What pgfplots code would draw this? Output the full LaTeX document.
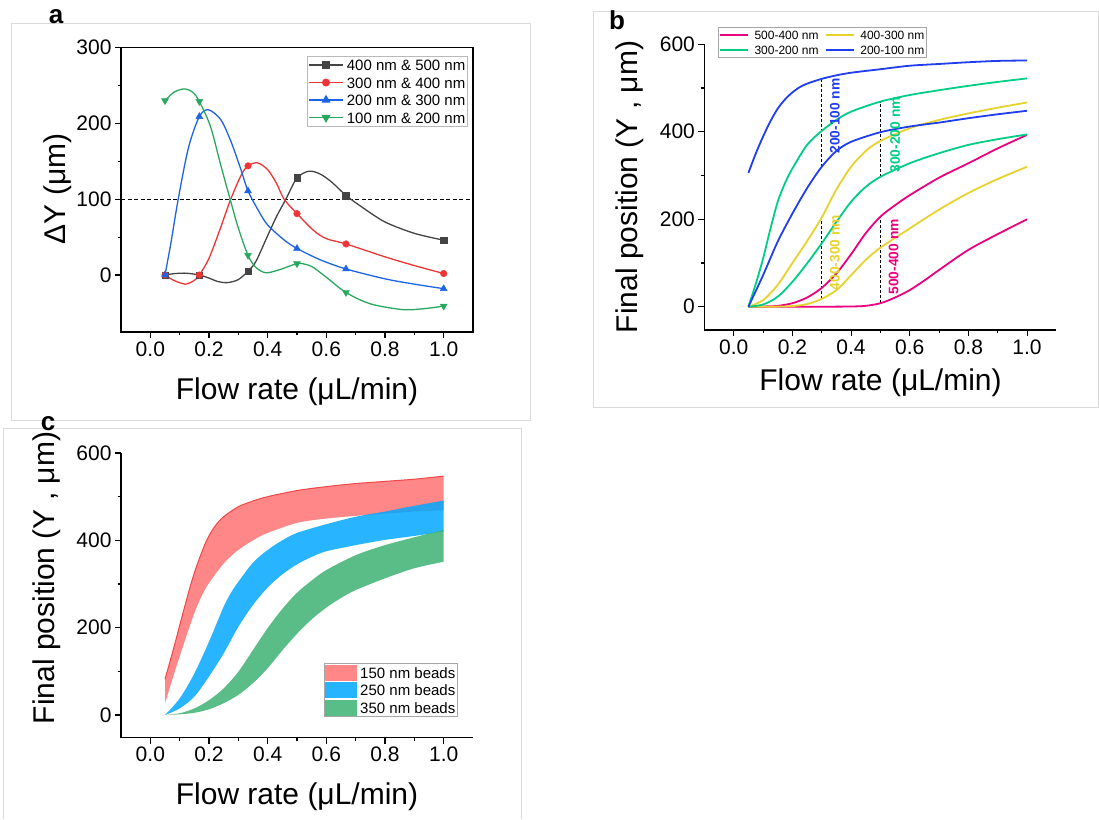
\documentclass[border=0pt]{standalone}
\usepackage{fontspec}
\setmainfont{Liberation Sans}
\usepackage{pgfplots}
\pgfplotsset{compat=1.18}
\usepgfplotslibrary{fillbetween}

\definecolor{ablack}{RGB}{68,68,68}
\definecolor{ared}{RGB}{238,52,52}
\definecolor{ablue}{RGB}{28,100,228}
\definecolor{agreen}{RGB}{40,168,95}
\definecolor{bpink}{RGB}{235,0,125}
\definecolor{byellow}{RGB}{230,210,45}
\definecolor{bgreen}{RGB}{0,206,132}
\definecolor{bblue}{RGB}{32,62,238}
\definecolor{cred}{RGB}{255,114,114}
\definecolor{credline}{RGB}{240,70,70}
\definecolor{cblue}{RGB}{2,167,255}
\definecolor{cgreen}{RGB}{61,178,114}
\definecolor{framegray}{RGB}{218,218,218}

\newcommand\lsa{\rule[-4pt]{0pt}{17pt}}
\newcommand\lsb{\rule[-3pt]{0pt}{13.5pt}}

\pgfplotsset{
  panel/.style={
    scale only axis, width=352pt,
    xmin=-0.1, xmax=1.1,
    xtick={0,0.2,0.4,0.6,0.8,1.0},
    minor x tick num=1, minor y tick num=1,
    tick align=outside, tick pos=left,
    major tick length=6pt, minor tick length=3.5pt,
    tick style={black, line width=1.1pt},
    axis line style={black, line width=1.4pt},
    /pgf/number format/assume math mode=true,
    tick label style={font=\fontsize{21}{24}\selectfont, text=black},
    x tick label style={/pgf/number format/.cd, fixed, fixed zerofill, precision=1, /tikz/.cd},
    y tick label style={/pgf/number format/.cd, fixed, /tikz/.cd},
    legend cell align=left,
  }
}

\begin{document}
\begin{tikzpicture}
% panel frames
\draw[framegray, line width=1pt] (11pt,795pt) rectangle (530pt,398pt);
\draw[framegray, line width=1pt] (593pt,807pt) rectangle (1098pt,411pt);
\draw[framegray, line width=1pt] (3pt,0pt) -- (3pt,390pt) -- (521pt,390pt) -- (521pt,0pt);

% ---------------- panel a ----------------
\begin{axis}[panel, at={(121pt,487.1pt)}, anchor=south west, height=284.3pt,
  ymin=-75, ymax=300, ytick={0,100,200,300},
  legend style={at={(1,1)}, anchor=north east, xshift=-6pt, yshift=-8.5pt,
    font=\fontsize{15}{17}\selectfont, draw=gray!55, inner sep=1pt, row sep=2pt,
    nodes={inner sep=0.5pt}, /tikz/every odd column/.append style={column sep=3pt}},
  legend image code/.code={\draw[mark repeat=2,mark phase=2,#1] plot coordinates {(0pt,0pt) (16.75pt,0pt) (33.5pt,0pt)};},
]
\addplot[black, line width=0.9pt, dash pattern=on 4pt off 2.5pt, forget plot] coordinates {(-0.1,100) (1.1,100)};

\addplot[ablack, line width=1.3pt, smooth, forget plot] coordinates {
(0.05,0) (0.08,1.8) (0.116,2.5) (0.145,1.5) (0.167,0) (0.2,-4) (0.23,-8.5) (0.263,-10) (0.3,-6) (0.333,5) (0.36,18) (0.4,52) (0.43,77) (0.462,100) (0.5,128) (0.541,137) (0.58,133) (0.62,122) (0.667,105) (0.72,90) (0.8,70) (0.9,55) (1.0,46)};
\addplot[ablack, only marks, mark=square*, mark size=3.3pt, forget plot] coordinates {
(0.05,0) (0.167,0) (0.333,5) (0.5,128) (0.667,105) (1.0,46)};

\addplot[ared, line width=1.3pt, smooth, forget plot] coordinates {
(0.05,0) (0.08,-7) (0.12,-12) (0.15,-7) (0.167,0) (0.2,22) (0.24,63) (0.274,100) (0.31,132) (0.333,144) (0.365,148) (0.4,139) (0.43,121) (0.456,100) (0.5,81) (0.556,59) (0.6,48) (0.667,41) (0.8,24) (0.9,12.5) (1.0,2)};
\addplot[ared, only marks, mark=*, mark size=3.3pt, forget plot] coordinates {
(0.05,0) (0.167,0) (0.333,144) (0.5,81) (0.667,41) (1.0,2)};

\addplot[ablue, line width=1.3pt, smooth, forget plot] coordinates {
(0.05,0) (0.07,42) (0.095,100) (0.13,168) (0.167,209) (0.198,218) (0.24,205) (0.274,177) (0.308,140) (0.333,111) (0.37,84) (0.4,66) (0.457,46) (0.5,35) (0.58,20) (0.667,8) (0.8,-5) (0.9,-12) (1.0,-18)};
\addplot[ablue, only marks, mark=triangle*, mark size=4pt, forget plot] coordinates {
(0.05,0) (0.167,209) (0.333,111) (0.5,35) (0.667,8) (1.0,-18)};

\addplot[agreen, line width=1.3pt, smooth, forget plot] coordinates {
(0.05,230) (0.08,241) (0.116,245.5) (0.145,241) (0.167,229) (0.205,196) (0.24,145) (0.272,100) (0.3,62) (0.333,26) (0.36,10) (0.394,3) (0.44,7) (0.5,15) (0.53,14) (0.556,10) (0.6,-3) (0.667,-23) (0.75,-38) (0.86,-45.6) (0.93,-44.5) (1.0,-41)};
\addplot[agreen, only marks, mark=triangle*, mark size=4pt, mark options={rotate=180}, forget plot] coordinates {
(0.05,230) (0.167,229) (0.333,26) (0.5,15) (0.667,-23) (1.0,-41)};

\addlegendimage{ablack, line width=1.3pt, mark=square*, mark size=3.3pt}
\addlegendentry{\lsa 400 nm \& 500 nm}
\addlegendimage{ared, line width=1.3pt, mark=*, mark size=3.3pt}
\addlegendentry{\lsa 300 nm \& 400 nm}
\addlegendimage{ablue, line width=1.3pt, mark=triangle*, mark size=4pt}
\addlegendentry{\lsa 200 nm \& 300 nm}
\addlegendimage{agreen, line width=1.3pt, mark=triangle*, mark size=4pt, mark options={rotate=180}}
\addlegendentry{\lsa 100 nm \& 200 nm}
\end{axis}

% ---------------- panel b ----------------
\begin{axis}[panel, at={(704.4pt,489.1pt)}, anchor=south west, height=285.6pt,
  ymin=-53, ymax=600, ytick={0,200,400,600},
  axis x line*=bottom, axis y line*=left, axis line style={-},
  legend columns=2,
  legend style={at={(0,1)}, anchor=north west, xshift=13.6pt, yshift=17.3pt,
    font=\fontsize{12}{14}\selectfont, draw=gray!70, inner sep=1pt, row sep=2pt,
    nodes={inner sep=0.5pt},
    /tikz/every odd column/.append style={column sep=5pt},
    /tikz/every even column/.append style={column sep=6pt}},
  legend image code/.code={\draw[#1] (0pt,0pt) -- (28pt,0pt);},
]
\addplot[black, line width=0.8pt, dash pattern=on 3pt off 2pt, forget plot] coordinates {(0.3,320) (0.3,521)};
\addplot[black, line width=0.8pt, dash pattern=on 3pt off 2pt, forget plot] coordinates {(0.3,18) (0.3,204)};
\addplot[black, line width=0.8pt, dash pattern=on 3pt off 2pt, forget plot] coordinates {(0.5,297) (0.5,469)};
\addplot[black, line width=0.8pt, dash pattern=on 3pt off 2pt, forget plot] coordinates {(0.5,8) (0.5,206)};

\addplot[bpink, line width=1.8pt, smooth, forget plot] coordinates {
(0.05,0) (0.1,0.5) (0.15,2) (0.2,8) (0.25,21) (0.3,43) (0.35,76) (0.4,120) (0.45,168) (0.5,206) (0.55,232) (0.6,255) (0.7,295) (0.8,328) (0.9,362) (1.0,393)};
\addplot[bpink, line width=1.8pt, smooth, forget plot] coordinates {
(0.05,0) (0.2,0) (0.3,0) (0.4,0.5) (0.45,2) (0.5,8) (0.55,21) (0.6,38) (0.65,60) (0.7,84) (0.8,130) (0.9,166) (1.0,200)};
\addplot[byellow, line width=1.8pt, smooth, forget plot] coordinates {
(0.05,0) (0.1,15) (0.15,50) (0.2,100) (0.25,150) (0.3,204) (0.35,268) (0.4,320) (0.45,356) (0.5,379) (0.6,408) (0.7,427) (0.8,442) (0.9,455) (1.0,467)};
\addplot[byellow, line width=1.8pt, smooth, forget plot] coordinates {
(0.05,0) (0.15,0.3) (0.2,1.5) (0.25,6) (0.3,18) (0.35,38) (0.4,72) (0.45,107) (0.5,135) (0.6,179) (0.7,222) (0.8,260) (0.9,292) (1.0,320)};
\addplot[bgreen, line width=1.8pt, smooth, forget plot] coordinates {
(0.05,0) (0.075,52) (0.1,110) (0.125,178) (0.15,240) (0.175,283) (0.2,316) (0.25,370) (0.3,402) (0.35,427) (0.4,446) (0.5,469) (0.6,484) (0.7,495) (0.8,505) (0.9,514) (1.0,522)};
\addplot[bgreen, line width=1.8pt, smooth, forget plot] coordinates {
(0.05,0) (0.1,5) (0.15,23) (0.2,57) (0.25,99) (0.3,145) (0.35,194) (0.4,240) (0.45,274) (0.5,297) (0.6,328) (0.7,351) (0.8,370) (0.9,383) (1.0,394)};
\addplot[bblue, line width=1.8pt, smooth, forget plot] coordinates {
(0.05,306) (0.075,350) (0.1,389) (0.125,424) (0.15,453) (0.175,474) (0.2,490) (0.225,502) (0.25,510) (0.3,521) (0.35,529) (0.4,535) (0.5,543) (0.6,551) (0.7,555) (0.8,559) (0.9,562) (1.0,563)};
\addplot[bblue, line width=1.8pt, smooth, forget plot] coordinates {
(0.05,0) (0.1,72) (0.15,149) (0.2,213) (0.25,271) (0.3,320) (0.35,356) (0.4,377) (0.5,399) (0.6,412) (0.7,421) (0.8,431) (0.9,440) (1.0,448)};

\node[rotate=90, text=bblue, font=\bfseries\fontsize{13.8}{15}\selectfont] at (axis cs:0.345,436) {200-100 nm};
\node[rotate=90, text=bgreen, font=\bfseries\fontsize{13.8}{15}\selectfont] at (axis cs:0.55,393) {300-200 nm};
\node[rotate=90, text=byellow, font=\bfseries\fontsize{13.8}{15}\selectfont] at (axis cs:0.345,124) {400-300 nm};
\node[rotate=90, text=bpink, font=\bfseries\fontsize{13.8}{15}\selectfont] at (axis cs:0.545,114) {500-400 nm};

\addlegendimage{bpink, line width=1.8pt}
\addlegendentry{\lsb 500-400 nm}
\addlegendimage{byellow, line width=1.8pt}
\addlegendentry{\lsb 400-300 nm}
\addlegendimage{bgreen, line width=1.8pt}
\addlegendentry{\lsb 300-200 nm}
\addlegendimage{bblue, line width=1.8pt}
\addlegendentry{\lsb 200-100 nm}
\end{axis}

% ---------------- panel c ----------------
\begin{axis}[panel, at={(121pt,81.3pt)}, anchor=south west, height=284.7pt,
  ymin=-52, ymax=600, ytick={0,200,400,600},
  axis x line*=bottom, axis y line*=left, axis line style={-},
  legend style={at={(1,0)}, anchor=south east, xshift=-16pt, yshift=21pt,
    font=\fontsize{15}{17}\selectfont, draw=gray!70, inner sep=1pt, row sep=1.5pt,
    nodes={inner sep=0.5pt}, /tikz/every odd column/.append style={column sep=3pt}},
  legend image code/.code={\fill[#1, draw=none] (0pt,-8pt) rectangle (32pt,8pt);},
]
% 150 nm beads
\addplot[name path=ru, credline, line width=1pt, smooth, forget plot] coordinates {
(0.05,82) (0.078,149) (0.1,205) (0.135,292) (0.16,345) (0.192,400) (0.22,432) (0.25,454) (0.3,477) (0.35,490) (0.4,500) (0.5,514) (0.6,523) (0.7,530) (0.8,535) (0.9,540) (1.0,547)};
\addplot[name path=rl, draw=none, smooth, forget plot] coordinates {
(0.05,27) (0.078,88) (0.1,134) (0.135,205) (0.16,250) (0.192,294) (0.25,347) (0.3,378) (0.36,404) (0.4,417) (0.5,440) (0.6,450) (0.7,456) (0.8,461) (0.9,466) (1.0,469)};
\addplot[fill=cred, fill opacity=0.85, draw=none, forget plot] fill between[of=ru and rl];
% 250 nm beads
\addplot[name path=bu, draw=none, smooth, forget plot] coordinates {
(0.05,0) (0.1,38) (0.15,95) (0.2,168) (0.25,248) (0.275,280) (0.3,305) (0.35,349) (0.4,378) (0.45,400) (0.5,417) (0.6,437) (0.7,454) (0.8,466) (0.9,479) (1.0,491)};
\addplot[name path=bl, draw=none, smooth, forget plot] coordinates {
(0.05,0) (0.1,15) (0.15,42) (0.2,88) (0.25,141) (0.3,202) (0.35,252) (0.4,292) (0.45,322) (0.5,345) (0.55,362) (0.6,375) (0.7,389) (0.8,401) (0.9,410) (1.0,420)};
\addplot[fill=cblue, fill opacity=0.85, draw=none, forget plot] fill between[of=bu and bl];
% 350 nm beads
\addplot[name path=gu, draw=none, smooth, forget plot] coordinates {
(0.05,0) (0.1,4) (0.15,15) (0.2,34) (0.25,61) (0.3,99) (0.35,149) (0.4,199) (0.45,243) (0.5,280) (0.55,308) (0.6,332) (0.7,366) (0.8,389) (0.9,407) (1.0,424)};
\addplot[name path=gl, draw=none, smooth, forget plot] coordinates {
(0.05,0) (0.1,1.5) (0.15,5) (0.2,13) (0.25,27) (0.3,46) (0.35,73) (0.4,107) (0.45,148) (0.5,186) (0.55,219) (0.6,246) (0.65,268) (0.7,286) (0.8,313) (0.9,336) (1.0,351)};
\addplot[fill=cgreen, fill opacity=0.85, draw=none, forget plot] fill between[of=gu and gl];

\addlegendimage{fill=cred, fill opacity=0.85}
\addlegendentry{\lsa 150 nm beads}
\addlegendimage{fill=cblue, fill opacity=0.85}
\addlegendentry{\lsa 250 nm beads}
\addlegendimage{fill=cgreen, fill opacity=0.85}
\addlegendentry{\lsa 350 nm beads}
\end{axis}

% labels
\node[font=\bfseries\fontsize{26}{30}\selectfont] at (56pt,802pt) {a};
\node[font=\bfseries\fontsize{26}{30}\selectfont] at (617pt,799pt) {b};
\node[font=\bfseries\fontsize{26}{30}\selectfont] at (48pt,395pt) {c};

\node[font=\fontsize{30}{34}\selectfont] at (297pt,427pt) {Flow rate (μL/min)};
\node[rotate=90, font=\fontsize{30}{34}\selectfont] at (58pt,630pt) {ΔY (μm)};
\node[font=\fontsize{30}{34}\selectfont] at (880.5pt,436pt) {Flow rate (μL/min)};
\node[rotate=90, font=\fontsize{30}{34}\selectfont] at (630pt,632pt) {Final position (Y , μm)};
\node[font=\fontsize{30}{34}\selectfont] at (297pt,22.3pt) {Flow rate (μL/min)};
\node[rotate=90, font=\fontsize{30}{34}\selectfont] at (47pt,241pt) {Final position (Y , μm)};

\pgfresetboundingbox
\path[use as bounding box] (0pt,0pt) rectangle (1099pt,819pt);
\end{tikzpicture}
\end{document}
